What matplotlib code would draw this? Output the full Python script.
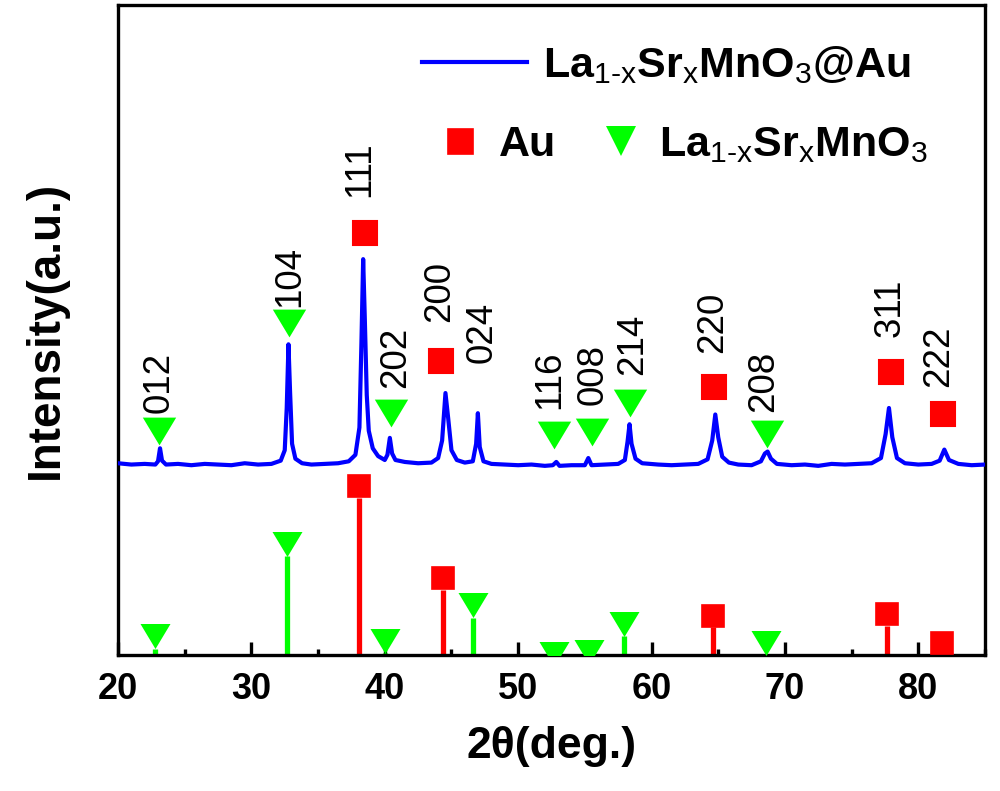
import matplotlib
matplotlib.use("Agg")
import matplotlib.pyplot as plt
from matplotlib import transforms as mtransforms
from matplotlib.lines import Line2D
from matplotlib.path import Path
from matplotlib.ticker import MultipleLocator
import matplotlib.font_manager as fm

# ---------------- data ----------------
# measured XRD pattern (2theta, intensity a.u.)
two_theta = [20.0, 21.0, 22.0, 22.8, 23.0, 23.15, 23.3, 23.6, 24.5, 25.5, 26.5, 27.5,
             28.5, 29.5, 30.5, 31.5, 32.2, 32.5, 32.65, 32.78, 32.9, 33.05, 33.3, 33.8,
             34.5, 35.5, 36.5, 37.3, 37.8, 38.1, 38.25, 38.38, 38.5, 38.65, 38.8, 39.1,
             39.5, 40.0, 40.2, 40.38, 40.55, 40.8, 41.5, 42.5, 43.5, 44.0, 44.3, 44.55,
             44.75, 45.0, 45.4, 46.0, 46.6, 46.85, 46.98, 47.12, 47.4, 48.0, 49.0, 50.0,
             51.0, 52.0, 52.6, 52.86, 53.1, 54.0, 55.0, 55.26, 55.5, 56.5, 57.5, 58.0,
             58.2, 58.35, 58.5, 58.8, 59.3, 60.5, 61.5, 62.5, 63.5, 64.2, 64.55, 64.78,
             65.0, 65.3, 65.8, 66.5, 67.5, 68.2, 68.5, 68.7, 68.95, 69.4, 70.5, 71.5,
             72.5, 73.5, 74.5, 75.5, 76.5, 77.2, 77.55, 77.8, 78.05, 78.4, 79.0, 80.0,
             81.0, 81.6, 81.95, 82.3, 83.0, 84.0, 85.0]
intensity = [29.5, 29.3, 29.4, 29.3, 29.8, 31.8, 29.9, 29.3, 29.4, 29.2, 29.4, 29.3,
             29.2, 29.5, 29.3, 29.4, 29.9, 31.5, 38.0, 47.8, 40.5, 32.5, 30.2, 29.5,
             29.3, 29.4, 29.5, 29.8, 30.8, 35.0, 48.0, 60.9, 52.0, 40.0, 34.5, 31.8,
             30.6, 30.0, 30.8, 33.4, 31.0, 30.0, 29.7, 29.5, 29.6, 30.3, 33.0, 40.3,
             36.5, 31.5, 30.0, 29.6, 29.8, 32.5, 37.2, 32.0, 29.8, 29.4, 29.3, 29.2,
             29.3, 29.1, 29.2, 29.7, 29.1, 29.2, 29.2, 30.3, 29.2, 29.3, 29.4, 30.0,
             32.8, 35.5, 32.5, 30.2, 29.5, 29.3, 29.2, 29.3, 29.4, 30.1, 33.0, 37.0,
             33.5, 30.5, 29.6, 29.3, 29.2, 29.8, 31.0, 31.3, 30.2, 29.4, 29.2, 29.3,
             29.1, 29.4, 29.3, 29.4, 29.5, 30.3, 34.0, 38.0, 33.5, 30.3, 29.5, 29.3,
             29.4, 29.9, 31.6, 30.0, 29.4, 29.2, 29.3]

# reference patterns (stick positions / heights)
lsmo_pos = [22.8, 32.7, 40.0, 46.65, 52.7, 55.3, 57.95, 68.55]
lsmo_h = [1.0, 15.2, 0.3, 5.7, -1.8, -1.4, 2.9, 0.0]
au_pos = [38.1, 44.35, 64.6, 77.65, 81.8]
au_h = [24.2, 10.0, 4.3, 4.5, 0.0]

# peak markers above the measured pattern
lsmo_mark_x = [23.1, 32.8, 40.5, 52.7, 55.5, 58.35, 68.65]
lsmo_mark_y = [34.5, 51.1, 37.3, 33.8, 34.3, 38.8, 34.0]
au_mark_x = [38.5, 44.2, 64.7, 77.95, 81.85]
au_mark_y = [65.0, 45.3, 41.3, 43.5, 37.1]

# hkl labels
hkl_labels = ["012", "104", "111", "202", "200", "024", "116", "008", "214",
              "220", "208", "311", "222"]
hkl_x = [23.1, 32.9, 38.15, 40.8, 44.15, 47.3, 52.4, 55.6, 58.6, 64.6, 68.4, 77.9, 81.5]
hkl_y = [37.2, 53.5, 70.5, 41.1, 51.2, 44.9, 37.8, 38.5, 43.1, 46.5, 37.4, 48.9, 41.2]

xticks = [20, 30, 40, 50, 60, 70, 80]

# ---------------- style ----------------
BLUE = "#0000FF"
RED = "#FF0000"
GREEN = "#00FF00"

names = {f.name for f in fm.fontManager.ttflist}
narrow = "Liberation Sans Narrow" if "Liberation Sans Narrow" in names else "Liberation Sans"

plt.rcParams["font.family"] = ["Liberation Sans", "DejaVu Sans"]
plt.rcParams["mathtext.fontset"] = "custom"
plt.rcParams["mathtext.rm"] = "Liberation Sans"
plt.rcParams["mathtext.bf"] = "Liberation Sans:bold"
plt.rcParams["mathtext.it"] = "Liberation Sans:italic"

fig = plt.figure(figsize=(10, 7.91), dpi=100)
ax = fig.add_axes([0.118, 1 - 655 / 791, 0.867, 650 / 791])

# down triangle, slightly flattened
tri = Path([(-1.2, 1.0), (1.2, 1.0), (0.0, -1.0), (-1.2, 1.0)],
           [Path.MOVETO, Path.LINETO, Path.LINETO, Path.CLOSEPOLY])

# measured curve
ax.plot(two_theta, intensity, color=BLUE, lw=3.0, solid_joinstyle="round", zorder=3)


def offset(pt):
    return ax.transData + mtransforms.ScaledTranslation(0, pt / 72, fig.dpi_scale_trans)


# reference sticks
ax.vlines(lsmo_pos, 0, [max(h, 0) for h in lsmo_h], color=GREEN, lw=3.8, zorder=2)
ax.vlines(au_pos, 0, [max(h, 0) for h in au_h], color=RED, lw=3.8, zorder=2)
ax.plot(lsmo_pos, lsmo_h, ls="none", marker=tri, ms=21.6, color=GREEN, mew=0,
        transform=offset(9.0), zorder=4)
ax.plot(au_pos, au_h, ls="none", marker="s", ms=15.5, color=RED, mec=RED, mew=1.2,
        transform=offset(8.3), zorder=4)

# markers above measured peaks
ax.plot(lsmo_mark_x, lsmo_mark_y, ls="none", marker=tri, ms=24, color=GREEN, mew=0, zorder=4)
ax.plot(au_mark_x, au_mark_y, ls="none", marker="s", ms=17, color=RED, mec=RED, mew=1.5, zorder=4)

for lab, x, y in zip(hkl_labels, hkl_x, hkl_y):
    ax.text(x, y, lab, rotation=90, ha="center", va="bottom", fontsize=26.5,
            family="Liberation Sans", color="black", zorder=5)

# axes
ax.set_xlim(20, 85)
ax.set_ylim(0, 100)
ax.set_xticks(xticks)
ax.set_xticklabels([str(t) for t in xticks])
ax.xaxis.set_minor_locator(MultipleLocator(5))
ax.tick_params(axis="x", which="both", direction="in", top=False, width=2.4, pad=12)
ax.tick_params(axis="x", which="major", length=9.4)
ax.tick_params(axis="x", which="minor", length=4.3)
ax.tick_params(axis="y", which="both", left=False, labelleft=False)
for lbl in ax.get_xticklabels():
    lbl.set_fontfamily(narrow)
    lbl.set_fontweight("bold")
    lbl.set_fontsize(30 if narrow != "Liberation Sans" else 26)
for sp in ax.spines.values():
    sp.set_linewidth(2.4)

ax.set_xlabel("2θ(deg.)", fontsize=32, fontweight="bold", labelpad=14)
ax.set_ylabel("Intensity(a.u.)", fontsize=33, fontweight="bold", labelpad=36)

# legends
lsmo_tex = r"$\mathbf{La}_{\text{1-x}}\mathbf{Sr}_{\text{x}}\mathbf{MnO}_{\text{3}}$"
lsmo_au_tex = r"$\mathbf{La}_{\text{1-x}}\mathbf{Sr}_{\text{x}}\mathbf{MnO}_{\text{3}}\mathbf{@Au}$"
lprop = fm.FontProperties(family="Liberation Sans", weight="bold", size=31)

leg1 = ax.legend([Line2D([], [], color=BLUE, lw=3)], [lsmo_au_tex], loc="center left",
                 bbox_to_anchor=(0.422, 1 - 65 / 791), bbox_transform=fig.transFigure,
                 frameon=False, handlelength=2.45, handletextpad=0.35, borderpad=0,
                 borderaxespad=0, prop=lprop)
ax.add_artist(leg1)

sq_h = Line2D([], [], ls="none", marker="s", ms=18, color=RED, mec=RED, mew=1.2)
tri_h = Line2D([], [], ls="none", marker="v", ms=22, color=GREEN, mew=0)
ax.legend([sq_h, tri_h], ["Au", lsmo_tex], loc="center left",
          bbox_to_anchor=(0.445, 1 - 145 / 791), bbox_transform=fig.transFigure,
          frameon=False, ncol=2, handlelength=0.7, handletextpad=0.55,
          columnspacing=1.15, borderpad=0, borderaxespad=0, prop=lprop)

fig.savefig("out.png", dpi=100, facecolor="white")
